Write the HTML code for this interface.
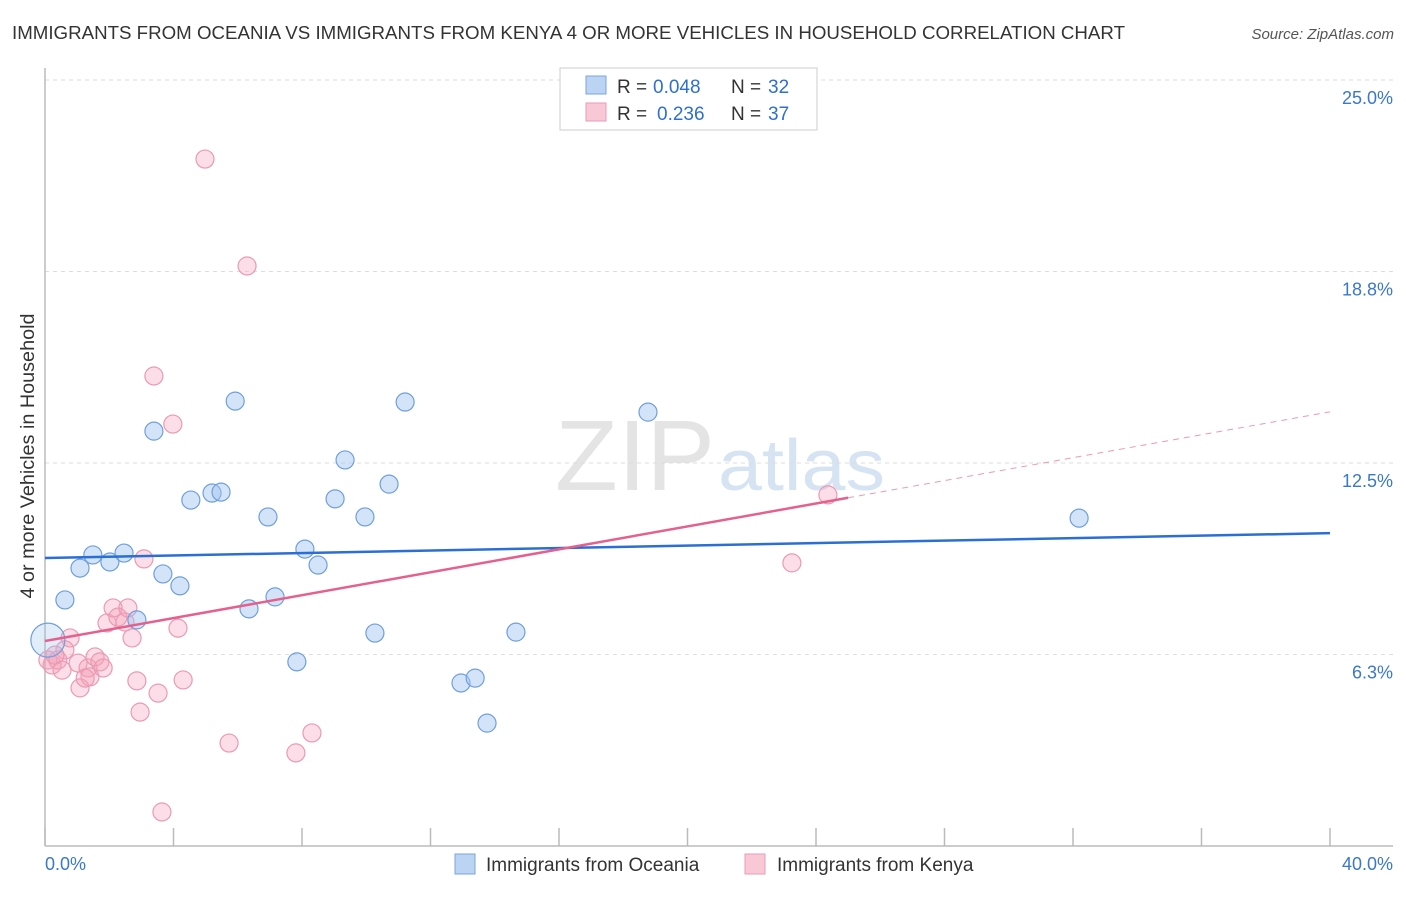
<!DOCTYPE html>
<html><head><meta charset="utf-8"><style>
body{margin:0;background:#fff;font-family:"Liberation Sans",sans-serif}
svg text{font-family:"Liberation Sans",sans-serif}
</style></head><body>
<svg id="c" width="1406" height="892" viewBox="0 0 1406 892">
<text x="12" y="39" font-size="18" fill="#333" textLength="1113" lengthAdjust="spacingAndGlyphs">IMMIGRANTS FROM OCEANIA VS IMMIGRANTS FROM KENYA 4 OR MORE VEHICLES IN HOUSEHOLD CORRELATION CHART</text>
<text x="1394" y="39" font-size="15" fill="#555" font-style="italic" text-anchor="end">Source: ZipAtlas.com</text>
<text x="555" y="490" font-size="100" fill="#e4e4e4" textLength="160" lengthAdjust="spacingAndGlyphs" font-family="Liberation Serif">ZIP</text>
<text x="718" y="490" font-size="72" fill="#d6e3f3" textLength="167" lengthAdjust="spacingAndGlyphs">atlas</text>
<g id="grid"></g>
<line x1="45" y1="68" x2="45" y2="846" stroke="#bbb" stroke-width="1.5"/>
<line x1="45" y1="846" x2="1393" y2="846" stroke="#bbb" stroke-width="1.5"/>
<g id="ticks"></g>
<text transform="translate(34,456) rotate(-90)" font-size="19" fill="#333" text-anchor="middle" textLength="285" lengthAdjust="spacingAndGlyphs">4 or more Vehicles in Household</text>
<text x="45" y="870" font-size="18" fill="#3a78c9">0.0%</text>
<text x="1393" y="870" font-size="18" fill="#3a78c9" text-anchor="end">40.0%</text>
<g id="pts"></g>
<g id="lines"></g>
<g>
<rect x="560" y="68" width="257" height="62" fill="#fff" stroke="#ccc"/>
<rect x="586" y="76" width="20" height="18" fill="#bcd4f3" stroke="#7aa5dd"/>
<rect x="586" y="103" width="20" height="18" fill="#f9c8d7" stroke="#e99ab4"/>
<text x="617" y="93" font-size="19" fill="#333">R =</text>
<text x="653" y="93" font-size="19" fill="#2e6fd0">0.048</text>
<text x="731" y="93" font-size="19" fill="#333">N =</text>
<text x="768" y="93" font-size="19" fill="#2e6fd0">32</text>
<text x="617" y="120" font-size="19" fill="#333">R =</text>
<text x="657" y="120" font-size="19" fill="#2e6fd0">0.236</text>
<text x="731" y="120" font-size="19" fill="#333">N =</text>
<text x="768" y="120" font-size="19" fill="#2e6fd0">37</text>
</g>
<g>
<rect x="455" y="854" width="20" height="20" fill="#bcd4f3" stroke="#7aa5dd"/>
<text x="486" y="871" font-size="19" fill="#333">Immigrants from Oceania</text>
<rect x="745" y="854" width="20" height="20" fill="#f9c8d7" stroke="#e99ab4"/>
<text x="777" y="871" font-size="19" fill="#333">Immigrants from Kenya</text>
</g>
</svg>
<script>
const yTicks=[25,18.75,12.5,6.25];
const yTickLabels=["25.0%","18.8%","12.5%","6.3%"];
const xTicks=[0,4,8,12,16,20,24,28,32,36,40];
const blueX=[0.62,1.09,1.49,2.02,2.46,3.39,3.67,4.20,4.54,5.20,5.48,5.92,6.35,6.94,7.16,7.84,8.09,8.50,9.03,9.34,9.96,10.27,10.71,11.21,12.95,13.39,13.76,14.66,18.77,32.19,2.86,0.09];
const blueY=[8.03,9.07,9.50,9.27,9.56,13.54,8.88,8.49,11.29,11.52,11.55,14.52,7.74,10.74,8.13,6.01,9.69,9.17,11.33,12.60,10.74,6.95,11.81,14.49,5.32,5.48,4.01,6.98,14.16,10.70,7.38,6.72];
const pinkX=[0.09,0.22,0.40,0.53,0.78,1.03,1.09,1.34,1.40,1.56,1.71,1.81,1.93,2.12,2.27,2.49,2.58,2.71,2.86,2.96,3.08,3.39,3.52,3.98,4.14,4.30,4.98,5.73,6.29,7.81,8.31,3.64,23.25,24.37,0.62,0.31,1.25];
const pinkY=[6.07,5.91,6.07,5.74,6.79,5.97,5.16,5.81,5.52,6.17,6.01,5.81,7.28,7.77,7.47,7.31,7.77,6.79,5.39,4.37,9.37,15.34,4.99,13.77,7.11,5.42,22.42,3.36,18.93,3.04,3.69,1.11,9.24,11.46,6.40,6.23,5.48];
const blueTrend=[9.40,10.21];
const pinkTrend=[6.69,0.187];
const NS="http://www.w3.org/2000/svg";
const sx=v=>45+v/40*1285;
const sy=v=>846-v/25*766;
function mk(tag,attrs,parent){const e=document.createElementNS(NS,tag);for(const k in attrs)e.setAttribute(k,attrs[k]);document.getElementById(parent).appendChild(e);return e;}
yTicks.forEach((t,i)=>{
 const l=mk('line',{x1:45,x2:1393,y1:sy(t),y2:sy(t),stroke:'#ddd','stroke-dasharray':'4,4'},'grid');
 
 
 const tx=mk('text',{x:1393,y:sy(t)+24,'font-size':18,fill:'#3a78c9','text-anchor':'end'},'grid');
 tx.textContent=yTickLabels[i];
 
 
});
xTicks.forEach(t=>{
 const l=mk('line',{x1:sx(t),x2:sx(t),y1:828,y2:846,stroke:'#bbb','stroke-width':1.5},'ticks');
 
 
});
pinkX.forEach((x,i)=>{
 const c=mk('circle',{cx:sx(x),cy:sy(pinkY[i]),r:9,fill:'rgba(244,160,186,0.35)',stroke:'#eb9ab3','stroke-width':1.2},'pts');
 
 
});
blueX.forEach((x,i)=>{
 const big=i===blueX.length-1;
 const c=mk('circle',{cx:sx(x),cy:sy(blueY[i]),r:big?17:9,fill:big?'rgba(160,196,240,0.3)':'rgba(160,196,240,0.45)',stroke:'#6f9fdc','stroke-width':1.2},'pts');
 
 
});
const bl=mk('line',{x1:sx(0),y1:sy(blueTrend[0]),x2:sx(40),y2:sy(blueTrend[1]),stroke:'#2b6fd4','stroke-width':2.5},'lines');


const pl=mk('line',{x1:sx(0),y1:sy(pinkTrend[0]),x2:sx(25),y2:sy(pinkTrend[0]+25*pinkTrend[1]),stroke:'#e5608d','stroke-width':2.5},'lines');


const pd=mk('line',{x1:sx(25),y1:sy(pinkTrend[0]+25*pinkTrend[1]),x2:sx(40),y2:sy(pinkTrend[0]+40*pinkTrend[1]),stroke:'#eb9ab3','stroke-width':1,'stroke-dasharray':'6,5'},'lines');


</script>
</body></html>
